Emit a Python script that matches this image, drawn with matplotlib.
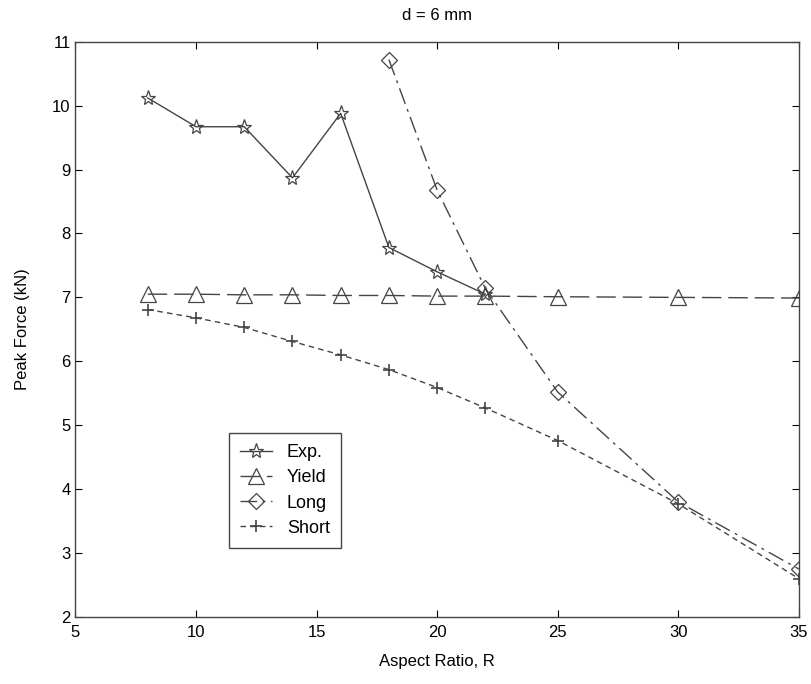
import matplotlib
matplotlib.use("Agg")
import matplotlib.pyplot as plt

plt.rcParams['font.family'] = ['Liberation Sans', 'DejaVu Sans']

# data
exp_x = [8, 10, 12, 14, 16, 18, 20, 22]
exp_y = [10.12, 9.67, 9.67, 8.87, 9.88, 7.78, 7.40, 7.05]

yield_x = [8, 10, 12, 14, 16, 18, 20, 22, 25, 30, 35]
yield_y = [7.05, 7.05, 7.04, 7.04, 7.03, 7.03, 7.02, 7.02, 7.01, 7.0, 6.99]

long_x = [18, 20, 22, 25, 30, 35]
long_y = [10.72, 8.68, 7.14, 5.52, 3.80, 2.75]

short_x = [8, 10, 12, 14, 16, 18, 20, 22, 25, 30, 35]
short_y = [6.81, 6.68, 6.53, 6.31, 6.10, 5.87, 5.59, 5.27, 4.76, 3.77, 2.60]

col = "#444444"

fig = plt.figure(figsize=(8.11, 6.84), dpi=100)
ax = fig.add_axes([0.093, 0.098, 0.892, 0.841])

ax.plot(exp_x, exp_y, color=col, lw=1.0, marker="*", ms=11, mfc="none", mew=0.9, label="Exp.")
ax.plot(yield_x, yield_y, color=col, lw=1.0, dashes=(14, 5), marker="^", ms=12, mfc="none", mew=0.9, label="Yield")
ax.plot(long_x, long_y, color=col, lw=1.0, dashes=(12, 4, 2, 4), marker="D", ms=8.5, mfc="none", mew=0.9, label="Long")
ax.plot(short_x, short_y, color=col, lw=1.0, dashes=(4, 3), marker="+", ms=8, mew=1.2, label="Short")

ax.set_xlim(5, 35)
ax.set_ylim(2, 11)
ax.set_xticks([5, 10, 15, 20, 25, 30, 35])
ax.set_yticks(range(2, 12))
ax.tick_params(direction="in", length=5, labelsize=12, top=True, right=True)
ax.tick_params(axis="x", pad=6)
for s in ax.spines.values():
    s.set_color(col)
    s.set_linewidth(1.0)

ax.set_xlabel("Aspect Ratio, R", fontsize=12, labelpad=10)
ax.set_ylabel("Peak Force (kN)", fontsize=12, labelpad=16)
ax.set_title("d = 6 mm", fontsize=12, pad=16)

leg = ax.legend(loc="lower left", bbox_to_anchor=(0.2, 0.105), fontsize=13, fancybox=False,
                edgecolor=col, framealpha=1, handlelength=1.8, labelspacing=0.45, borderpad=0.6)
leg.get_frame().set_linewidth(1.0)

plt.savefig("out.png", dpi=100)
